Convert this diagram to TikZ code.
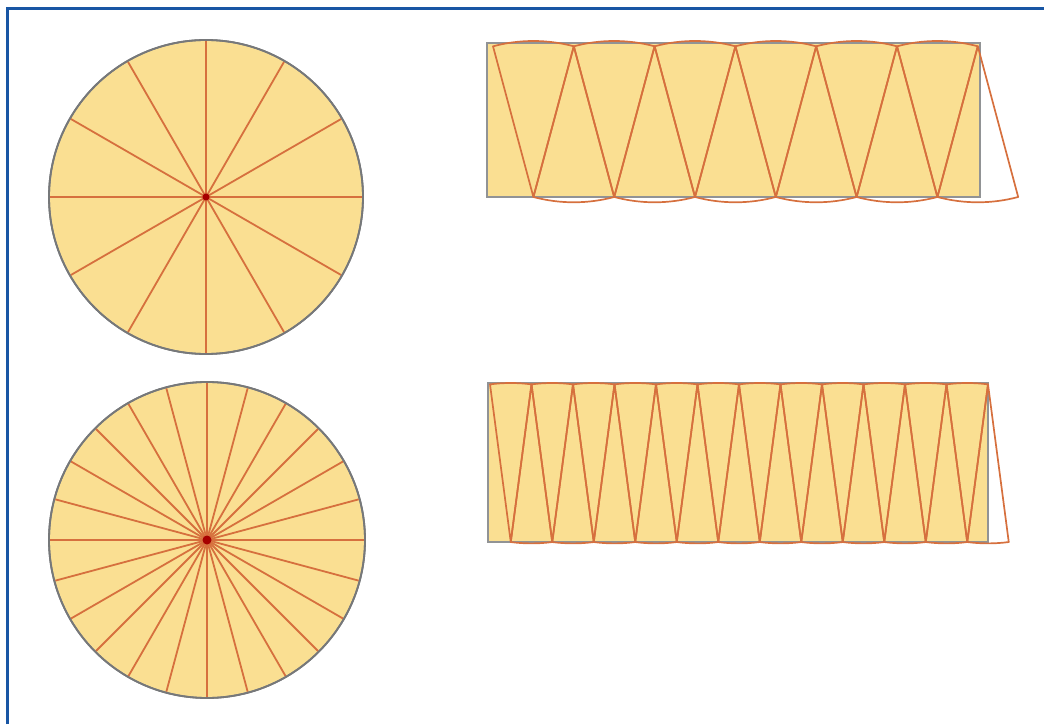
\documentclass[tikz,border=0pt]{standalone}
\usepackage{tikz}
\usetikzlibrary{calc}
\definecolor{pieYellow}{RGB}{250,223,146}
\definecolor{rayRed}{RGB}{214,112,62}
\definecolor{rimGray}{RGB}{118,120,122}
\definecolor{frameBlue}{RGB}{24,86,164}
\tikzset{
myDisc/.style={
	fill=pieYellow, draw=rimGray, line width=1.8pt
}
, myRay/.style={color=rayRed, line width=1.8pt}
, myHub/.style={fill=red!65!black}
, myStrip/.style={
	fill=pieYellow, draw=rimGray!80, line width=1.6pt
}
, mySector/.style={draw=rayRed, line width=1.7pt, line join=round}
, myFrame/.style={draw=frameBlue, line width=3pt}
}

\begin{document}
\begin{tikzpicture}[x=1pt,y=1pt]
	\useasboundingbox (0,0) rectangle (1044,724);
	% frame
	\draw[myFrame] (7,0) -- (7,715) -- (1044,715);

	% circles
	\coordinate (C1) at (206,527);
	\coordinate (C2) at (207,184);
	\draw[myDisc] (C1) circle (157pt);
	\foreach \a in {0,30,...,330}
		\draw[myRay] (C1) -- ++(\a:156pt);
	\fill[myHub] (C1) circle (3.5pt);
	\draw[draw=rimGray, line width=1.8pt] (C1) circle (157pt);

	\draw[myDisc] (C2) circle (158pt);
	\foreach \a in {0,15,...,345}
		\draw[myRay] (C2) -- ++(\a:157pt);
	\fill[myHub] (C2) circle (4.5pt);
	\draw[draw=rimGray, line width=1.8pt] (C2) circle (158pt);

	% strip of 12 sectors
	\draw[myStrip] (487,527) rectangle (980,681);
	\foreach \k in {0,...,11} {
		\pgfmathsetmacro{\xa}{493+40.4*(\k+1)}
		\ifodd\k
			\draw[mySector] (\xa,677.7) -- ++(255:156pt)
				arc[start angle=255, end angle=285, radius=156pt] -- cycle;
		\else
			\draw[mySector] (\xa,527) -- ++(105:156pt)
				arc[start angle=105, end angle=75, radius=156pt] -- cycle;
		\fi
	}

	% strip of 24 sectors
	\draw[myStrip] (488,182) rectangle (988,341);
	\foreach \k in {0,...,23} {
		\pgfmathsetmacro{\xa}{490+20.75*(\k+1)}
		\ifodd\k
			\draw[mySector] (\xa,339.6) -- ++(262.5:159pt)
				arc[start angle=262.5, end angle=277.5, radius=159pt] -- cycle;
		\else
			\draw[mySector] (\xa,182) -- ++(97.5:159pt)
				arc[start angle=97.5, end angle=82.5, radius=159pt] -- cycle;
		\fi
	}
\end{tikzpicture}
\end{document}
